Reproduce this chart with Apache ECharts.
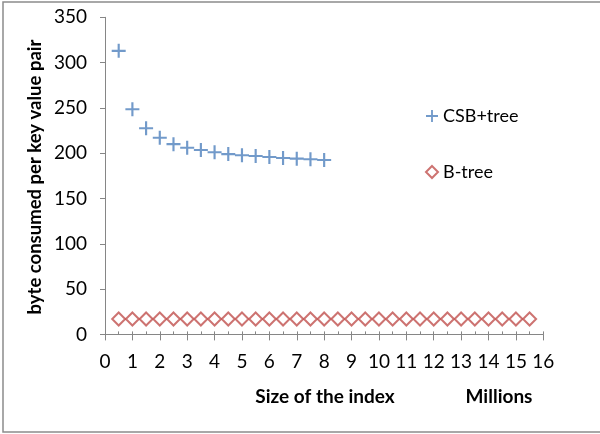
<!DOCTYPE html>
<html>
<head>
<meta charset="utf-8">
<script src="https://cdn.jsdelivr.net/npm/echarts@6/dist/echarts.min.js"></script>
<style>
html,body{margin:0;padding:0;background:#fff;}
#c{width:600px;height:434px;}
</style>
</head>
<body>
<div id="c"></div>
<script>
// Data (x in millions)
var csbX = [0.5, 1, 1.5, 2, 2.5, 3, 3.5, 4, 4.5, 5, 5.5, 6, 6.5, 7, 7.5, 8];
var csbY = [313, 248.5, 227.5, 217, 210, 206, 203.5, 201, 199, 197.7, 196.9, 195.8, 194.7, 194, 193.3, 192.5];
var btreeX = [0.5, 1, 1.5, 2, 2.5, 3, 3.5, 4, 4.5, 5, 5.5, 6, 6.5, 7, 7.5, 8,
              8.5, 9, 9.5, 10, 10.5, 11, 11.5, 12, 12.5, 13, 13.5, 14, 14.5, 15, 15.5];
var btreeY = [17, 17, 17, 17, 17, 17, 17, 17, 17, 17, 17, 17, 17, 17, 17, 17,
              17, 17, 17, 17, 17, 17, 17, 17, 17, 17, 17, 17, 17, 17, 17];
var seriesNames = ['CSB+tree', 'B-tree'];
var xTitle = 'Size of the index';
var xUnit = 'Millions';
var yTitle = 'byte consumed per key value pair';

function pairs(xs, ys) { return xs.map(function (x, i) { return [x, ys[i]]; }); }

var FONT = 'Lato';
var plusPath = 'path://M5.5,0H7.5V5.5H13V7.5H7.5V13H5.5V7.5H0V5.5H5.5Z';

var chart = echarts.init(document.getElementById('c'), null, {renderer: 'canvas'});
chart.setOption({
  backgroundColor: '#fff',
  animation: false,
  grid: {left: 105, right: 56.7, top: 17.3, bottom: 99.6, containLabel: false},
  xAxis: [{
    type: 'value', min: 0, max: 16, interval: 1,
    axisLine: {show: true, lineStyle: {color: '#868686', width: 1}},
    axisTick: {show: true, inside: false, length: 6, lineStyle: {color: '#868686'}},
    minorTick: {show: false},
    splitLine: {show: false},
    axisLabel: {color: '#000', fontFamily: FONT, fontSize: 19, margin: 18}
  }, {
    type: 'value', min: 0, max: 16, interval: 1, position: 'bottom',
    axisLine: {show: false},
    axisTick: {show: true, inside: true, length: 3, lineStyle: {color: '#868686'}},
    minorTick: {show: true, splitNumber: 2, length: 3, lineStyle: {color: '#868686'}},
    splitLine: {show: false},
    axisLabel: {show: false}
  }],
  yAxis: {
    type: 'value', min: 0, max: 350, interval: 50,
    axisLine: {show: true, lineStyle: {color: '#868686', width: 1}},
    axisTick: {show: true, inside: false, length: 5, lineStyle: {color: '#868686'}},
    splitLine: {show: false},
    axisLabel: {color: '#000', fontFamily: FONT, fontSize: 19, margin: 18}
  },
  legend: {
    orient: 'vertical',
    left: 420, top: 100,
    itemWidth: 12, itemHeight: 12,
    itemGap: 34,
    textStyle: {fontFamily: FONT, fontSize: 18, color: '#000', lineHeight: 22},
    data: [
      {name: seriesNames[0], icon: plusPath},
      {name: seriesNames[1], icon: 'diamond'}
    ]
  },
  series: [{
    name: seriesNames[0], type: 'scatter',
    data: pairs(csbX, csbY),
    symbol: plusPath, symbolSize: 14,
    itemStyle: {color: '#4F81BD'}
  }, {
    name: seriesNames[1], type: 'scatter',
    data: pairs(btreeX, btreeY),
    symbol: 'diamond', symbolSize: 13,
    itemStyle: {color: '#fff', borderColor: '#C0504D', borderWidth: 2}
  }],
  graphic: [
    {type: 'polyline', shape: {points: [[640, 2], [3, 2], [3, 432], [640, 432]]},
     style: {fill: null, stroke: '#8c8c8c', lineWidth: 1.5}, silent: true, z: -1},
    {type: 'text', x: 325, y: 397,
     style: {text: xTitle, fontFamily: FONT, fontSize: 19, fontWeight: 'bold', fill: '#000',
             align: 'center', verticalAlign: 'middle'}},
    {type: 'text', x: 499, y: 397,
     style: {text: xUnit, fontFamily: FONT, fontSize: 19, fontWeight: 'bold', fill: '#000',
             align: 'center', verticalAlign: 'middle'}},
    {type: 'text', x: 35, y: 177, rotation: Math.PI / 2,
     style: {text: yTitle, fontFamily: FONT, fontSize: 18.5, fontWeight: 'bold', fill: '#000',
             align: 'center', verticalAlign: 'middle'}}
  ]
});
</script>
</body>
</html>
